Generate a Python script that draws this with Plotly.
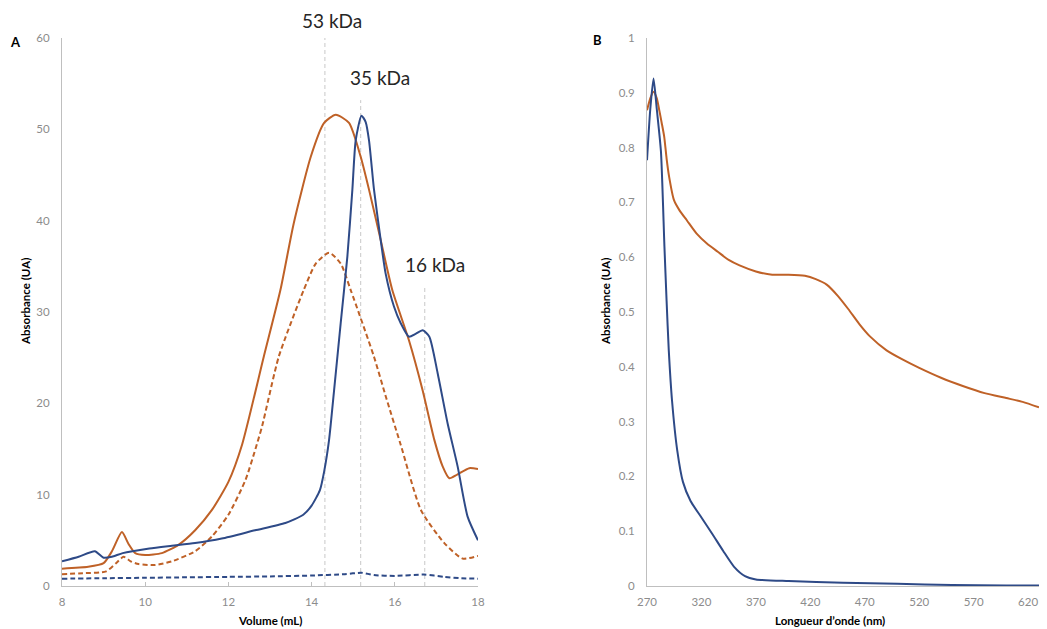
import plotly.graph_objects as go

# ---------------- Panel A data (Volume mL vs Absorbance UA) ----------------
a_blue_x = [8.0, 8.4, 8.79, 9.0, 9.2, 9.46, 10.1, 10.64, 11.2, 11.84, 12.64, 13.37, 13.8, 14.0, 14.2, 14.3,
            14.42, 14.54, 14.7, 14.86, 14.98, 15.06, 15.2, 15.3, 15.38, 15.5, 15.66, 15.78, 15.98, 16.14,
            16.34, 16.5, 16.67, 16.83, 17.03, 17.27, 17.51, 17.75, 18.0]
a_blue_y = [2.7, 3.2, 3.8, 3.1, 3.2, 3.6, 4.1, 4.4, 4.7, 5.2, 6.1, 6.9, 7.8, 8.8, 10.5, 12.5,
            16.0, 21.4, 28.8, 36.1, 43.4, 48.8, 51.5, 50.8, 48.8, 43.4, 37.9, 34.2, 30.6, 28.8,
            27.3, 27.6, 28.0, 27.3, 23.3, 17.8, 13.1, 7.6, 5.0]

a_orange_x = [8.0, 8.63, 9.0, 9.2, 9.44, 9.6, 9.76, 10.0, 10.4, 10.8, 11.2, 11.6, 12.0, 12.33, 12.85, 13.25,
              13.57, 13.98, 14.3, 14.58, 14.9, 15.18, 15.38, 15.66, 15.94, 16.34, 16.67, 16.95, 17.15,
              17.31, 17.5, 17.79, 18.0]
a_orange_y = [1.9, 2.1, 2.5, 3.8, 5.9, 4.6, 3.6, 3.4, 3.6, 4.5, 6.1, 8.3, 11.4, 15.5, 25.1, 32.4,
              39.7, 47.0, 50.7, 51.6, 50.7, 47.0, 43.4, 37.9, 32.4, 26.9, 21.4, 16.0, 13.1,
              11.8, 12.2, 12.9, 12.8]

a_orange_dash_x = [8.0, 8.5, 9.06, 9.3, 9.48, 9.65, 9.84, 10.24, 10.64, 11.2, 11.6, 12.0, 12.41, 12.65, 12.81,
                   13.21, 13.81, 14.1, 14.42, 14.7, 14.94, 15.5, 15.8, 16.14, 16.63, 17.19, 17.63, 18.0]
a_orange_dash_y = [1.3, 1.4, 1.6, 2.5, 3.2, 2.7, 2.4, 2.3, 2.7, 3.8, 5.4, 7.8, 11.6, 15.0, 17.5,
                   25.1, 32.4, 35.3, 36.5, 35.3, 32.4, 25.1, 20.5, 15.5, 8.3, 4.7, 3.0, 3.3]

a_blue_dash_x = [8.0, 9.0, 10.0, 11.0, 12.0, 13.0, 14.0, 14.8, 15.2, 15.5, 16.0, 16.7, 17.2, 17.6, 18.0]
a_blue_dash_y = [0.8, 0.85, 0.9, 0.95, 1.0, 1.05, 1.15, 1.3, 1.45, 1.2, 1.1, 1.25, 1.0, 0.85, 0.8]

# molecular-weight markers (volume, label, top of guide line)
mw_volumes = [14.32, 15.18, 16.72]
mw_labels = ["53 kDa", "35 kDa", "16 kDa"]
mw_line_tops = [60.3, 53.2, 32.7]

# ---------------- Panel B data (wavelength nm vs Absorbance UA) ----------------
b_blue_x = [270, 273, 276, 279, 282.8, 286, 288, 290, 293, 297.8, 303, 310, 320, 330, 340, 350, 360,
            370, 400, 450, 500, 550, 600, 630]
b_blue_y = [0.777, 0.87, 0.926, 0.87, 0.793, 0.62, 0.52, 0.43, 0.338, 0.247, 0.19, 0.155, 0.125, 0.095,
            0.064, 0.035, 0.018, 0.012, 0.009, 0.006, 0.004, 0.002, 0.001, 0.001]

b_orange_x = [270, 273, 276, 279, 281.3, 283.5, 285.8, 288, 290.3, 294.8, 300, 306.7, 315.6, 325, 335, 345,
              355, 370, 385, 400, 415, 425, 435, 445, 455, 465, 475, 490, 505, 520, 540, 560, 580, 600,
              615, 630]
b_orange_y = [0.868, 0.89, 0.902, 0.89, 0.868, 0.845, 0.82, 0.78, 0.747, 0.704, 0.685, 0.667, 0.643, 0.625,
              0.61, 0.595, 0.585, 0.574, 0.568, 0.568, 0.566, 0.56, 0.55, 0.53, 0.505, 0.478, 0.455, 0.43,
              0.413, 0.398, 0.38, 0.365, 0.352, 0.343, 0.336, 0.326]

a_xticks = [8, 10, 12, 14, 16, 18]
a_yticks = [0, 10, 20, 30, 40, 50, 60]
b_xticks = [270, 320, 370, 420, 470, 520, 570, 620]
b_yticks = [0, 0.1, 0.2, 0.3, 0.4, 0.5, 0.6, 0.7, 0.8, 0.9, 1]

BLUE = "#2E4A87"
ORANGE = "#BF6127"
AXIS = "#BFBFBF"
TICKC = "#8C8C8C"
FONT = "Lato"

# page body has an 8px margin: figure is drawn offset by 8px in the window
OFF = 8
W, H = 1047 - 2 * OFF, 629 - OFF

def fx(px):
    return (px - OFF) / W

def fy(py):
    return 1 - (py - OFF) / H

fig = go.Figure()

sm = dict(shape="spline", smoothing=0.6)
fig.add_trace(go.Scatter(x=a_blue_dash_x, y=a_blue_dash_y, mode="lines",
                         line=dict(color=BLUE, width=2, dash="5px,3px", **sm), xaxis="x", yaxis="y"))
fig.add_trace(go.Scatter(x=a_orange_dash_x, y=a_orange_dash_y, mode="lines",
                         line=dict(color=ORANGE, width=2, dash="5px,3px", **sm), xaxis="x", yaxis="y"))
fig.add_trace(go.Scatter(x=a_orange_x, y=a_orange_y, mode="lines",
                         line=dict(color=ORANGE, width=2, **sm), xaxis="x", yaxis="y"))
fig.add_trace(go.Scatter(x=a_blue_x, y=a_blue_y, mode="lines",
                         line=dict(color=BLUE, width=2, **sm), xaxis="x", yaxis="y"))

fig.add_trace(go.Scatter(x=b_orange_x, y=b_orange_y, mode="lines",
                         line=dict(color=ORANGE, width=2, **sm), xaxis="x2", yaxis="y2"))
fig.add_trace(go.Scatter(x=b_blue_x, y=b_blue_y, mode="lines",
                         line=dict(color=BLUE, width=2, **sm), xaxis="x2", yaxis="y2"))

# guide lines for MW markers
for v, top in zip(mw_volumes, mw_line_tops):
    fig.add_shape(type="line", xref="x", yref="y", x0=v, x1=v, y0=0, y1=top,
                  line=dict(color="#C8C8C8", width=1, dash="4px,3px"), layer="below")

label_pos = [(14.5, 21), (15.65, 77), (16.97, 264)]
for lab, (lx, py) in zip(mw_labels, label_pos):
    fig.add_annotation(text=lab, x=lx, y=fy(py), xref="x", yref="paper", showarrow=False, borderpad=0,
                       font=dict(family=FONT, size=19, color="#262626"), xanchor="center", yanchor="middle")

common_axis = dict(showline=True, linecolor=AXIS, linewidth=1, showgrid=False, zeroline=False,
                   automargin=False, tickfont=dict(family=FONT, size=11.5, color=TICKC))

fig.update_layout(
    width=W, height=H,
    margin=dict(l=0, r=0, t=0, b=0),
    paper_bgcolor="white", plot_bgcolor="white",
    showlegend=False,
    xaxis=dict(domain=[fx(62), fx(478)], range=[8, 18], tickvals=a_xticks, anchor="y",
               ticks="inside", ticklen=4, tickcolor=AXIS, ticklabelstandoff=5, **common_axis),
    yaxis=dict(domain=[fy(586), fy(38)], range=[0, 60], tickvals=a_yticks, anchor="x", ticks="",
               ticklabelstandoff=9, **common_axis),
    xaxis2=dict(domain=[fx(647), 1.0], range=[270, 630], tickvals=b_xticks, anchor="y2", ticks="",
                ticklabelstandoff=5, **common_axis),
    yaxis2=dict(domain=[fy(586), fy(38)], range=[0, 1], tickvals=b_yticks, anchor="x2", ticks="",
                ticklabelstandoff=9, **common_axis),
)

def ann(text, px, py, size, color="black", angle=0):
    fig.add_annotation(text=text, x=fx(px), y=fy(py), xref="paper", yref="paper", showarrow=False,
                       xanchor="center", yanchor="middle", textangle=angle,
                       font=dict(family=FONT, size=size, color=color))

# panel letters
ann("<b>A</b>", 15, 42, 13)
ann("<b>B</b>", 597, 40, 13)

# axis titles
ann("<b>Volume (mL)</b>", 270, 620, 11.5)
ann("<b>Longueur d’onde (nm)</b>", 830, 620, 11.5)
ann("<b>Absorbance (UA)</b>", 25, 302, 11.5, angle=-90)
ann("<b>Absorbance (UA)</b>", 605, 302, 11.5, angle=-90)

fig.write_html("out.html")
